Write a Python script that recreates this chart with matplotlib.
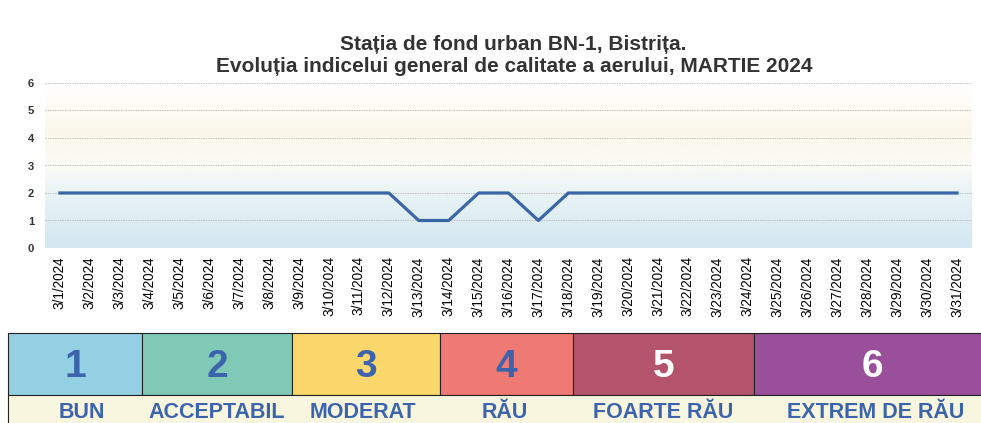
import numpy as np
import matplotlib.pyplot as plt
from matplotlib.patches import Rectangle
from matplotlib.colors import LinearSegmentedColormap

# Date zilnice - indice general de calitate a aerului, martie 2024
zile = [f"3/{d}/2024" for d in range(1, 32)]
indice = [2, 2, 2, 2, 2, 2, 2, 2, 2, 2, 2, 2, 1, 1, 2, 2, 1, 2, 2, 2,
          2, 2, 2, 2, 2, 2, 2, 2, 2, 2, 2]

# Legenda - clase de indice
clase = ["1", "2", "3", "4", "5", "6"]
denumiri = ["BUN", "ACCEPTABIL", "MODERAT", "RĂU", "FOARTE RĂU", "EXTREM DE RĂU"]
culori = ["#93d0e3", "#80c9b6", "#fcd76c", "#ef7a73", "#b3546c", "#9a4f9a"]
culori_text = ["#3c64ad", "#3c64ad", "#3c64ad", "#3c64ad", "white", "white"]

plt.rcParams['font.family'] = ['Liberation Sans', 'DejaVu Sans']

fig = plt.figure(figsize=(9.81, 4.23), dpi=100)
ax = fig.add_axes([45/981, 1-248/423, 927/981, 165/423])

# fundal in degrade
cm = LinearSegmentedColormap.from_list("fundal", [(0, "#d3e8f0"), (0.33, "#e9f3f6"),
                                                 (0.5, "#fbfbf6"), (0.7, "#fbf8ea"),
                                                 (1.0, "#ffffff")])
g = np.linspace(0, 1, 200).reshape(-1, 1)
ax.imshow(g, cmap=cm, aspect='auto', extent=(-0.5, 30.5, 0, 6), origin='lower', zorder=0)

x = np.arange(len(zile))
ax.plot(x, indice, color="#3a66a8", lw=2.3, zorder=3)

ax.set_xlim(-0.5, 30.5)
ax.set_ylim(0, 6)
ax.set_yticks(range(7))
ax.set_xticks(x)
ax.set_xticklabels(zile, rotation=90, fontsize=9.8)
ax.tick_params(axis='y', labelsize=8, length=0, pad=8, labelcolor="#333333")
for t in ax.get_yticklabels():
    t.set_fontweight('bold')
ax.tick_params(axis='x', length=0, pad=6)
for s in ax.spines.values():
    s.set_visible(False)
ax.grid(axis='y', color="#a8a8a8", lw=0.5, ls=(0, (2, 1.5)), zorder=1)

fig.text(0.523, 1-45/423, "Stația de fond urban BN-1, Bistrița.", ha='center', va='center',
         fontsize=15, fontweight='bold', color="#333333")
fig.text(0.524, 1-67/423, "Evoluția indicelui general de calitate a aerului, MARTIE 2024",
         ha='center', va='center', fontsize=15, fontweight='bold', color="#333333")

# legenda de jos
lg = fig.add_axes([0, 0, 1, 1])
lg.set_xlim(0, 981)
lg.set_ylim(423, 0)
lg.axis('off')
margini = [8, 142, 292, 440, 573, 754, 990]
for i in range(len(clase)):
    x0, x1 = margini[i], margini[i + 1]
    lg.add_patch(Rectangle((x0, 333), x1 - x0, 62, facecolor=culori[i],
                           edgecolor="#222222", lw=0.8))
    lg.text((x0 + x1) / 2, 367, clase[i], ha='center', va='center', fontsize=28,
            fontweight='bold', color=culori_text[i])
lg.add_patch(Rectangle((8, 395), 990, 40, facecolor="#f8f6de", edgecolor="#222222", lw=0.8))
pozitii = [82, 217, 363, 505, 663, 876]
for p, d in zip(pozitii, denumiri):
    lg.text(p, 412, d, ha='center', va='center', fontsize=15.5, fontweight='bold',
            color="#3c64ad")

plt.savefig("out.png", dpi=100)
